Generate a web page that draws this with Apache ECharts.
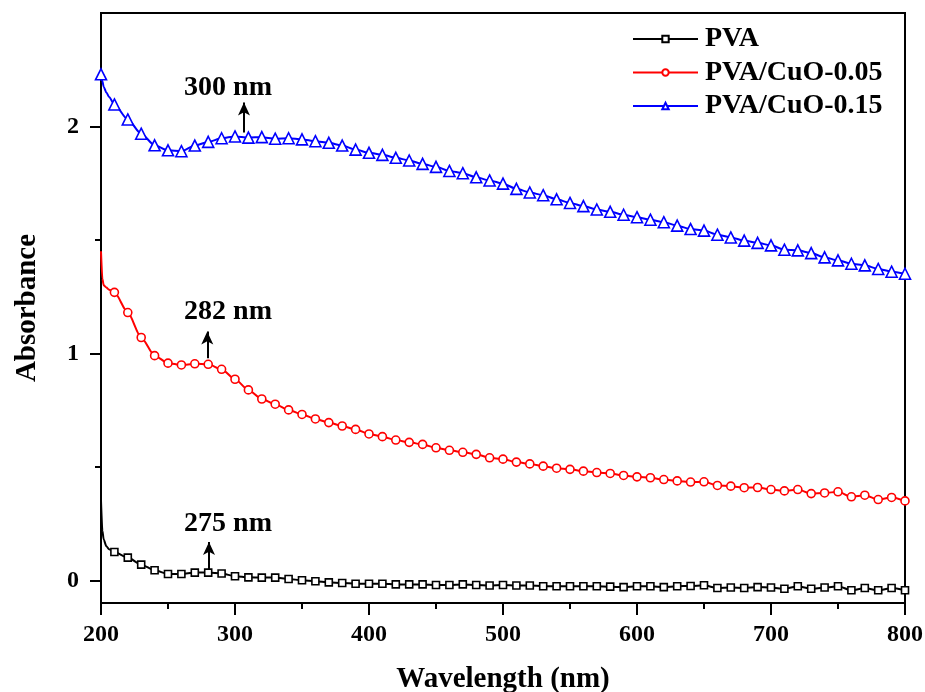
<!DOCTYPE html>
<html>
<head>
<meta charset="utf-8">
<script src="https://cdn.jsdelivr.net/npm/echarts@6/dist/echarts.min.js"></script>
<style>
html,body{margin:0;padding:0;background:#fff;}
#chart{width:925px;height:692px;}
</style>
</head>
<body>
<div id="chart"></div>
<script>
// ---- data ----
const wavelength = [200,210,220,230,240,250,260,270,280,290,300,310,320,330,340,350,360,370,380,390,400,410,420,430,440,450,460,470,480,490,500,510,520,530,540,550,560,570,580,590,600,610,620,630,640,650,660,670,680,690,700,710,720,730,740,750,760,770,780,790,800];
const pva = [0.35,0.125,0.100,0.069,0.044,0.028,0.028,0.034,0.034,0.030,0.018,0.013,0.012,0.012,0.006,0.000,-0.004,-0.009,-0.012,-0.015,-0.015,-0.015,-0.018,-0.018,-0.018,-0.021,-0.021,-0.018,-0.021,-0.023,-0.021,-0.023,-0.023,-0.026,-0.026,-0.026,-0.026,-0.026,-0.028,-0.030,-0.026,-0.026,-0.030,-0.026,-0.025,-0.022,-0.034,-0.032,-0.034,-0.030,-0.032,-0.037,-0.026,-0.037,-0.032,-0.026,-0.044,-0.034,-0.044,-0.034,-0.044];
const cuo005 = [1.45,1.269,1.180,1.070,0.990,0.957,0.949,0.954,0.952,0.930,0.886,0.839,0.799,0.776,0.751,0.731,0.711,0.695,0.680,0.665,0.645,0.633,0.618,0.608,0.599,0.584,0.573,0.564,0.555,0.540,0.534,0.521,0.513,0.503,0.494,0.489,0.481,0.475,0.471,0.462,0.456,0.452,0.444,0.438,0.433,0.434,0.418,0.415,0.408,0.409,0.400,0.394,0.400,0.382,0.385,0.390,0.368,0.375,0.356,0.365,0.350];
const cuo015 = [2.23,2.097,2.031,1.968,1.917,1.895,1.891,1.916,1.932,1.948,1.956,1.951,1.953,1.946,1.948,1.943,1.935,1.928,1.916,1.898,1.884,1.875,1.862,1.850,1.835,1.822,1.804,1.794,1.776,1.762,1.748,1.725,1.709,1.697,1.679,1.663,1.649,1.634,1.624,1.611,1.600,1.589,1.578,1.563,1.548,1.541,1.523,1.511,1.497,1.487,1.476,1.457,1.454,1.442,1.423,1.410,1.395,1.388,1.372,1.360,1.351];
// extra unmarked readings near the steep edge at 200 nm
const edgeWavelength = [201, 202, 204, 206];
const pvaEdge = [0.22, 0.18, 0.15, 0.137];
const cuo005Edge = [1.33, 1.30, 1.29, 1.28];
const cuo015Edge = [2.20, 2.175, 2.15, 2.13];

const seriesNames = ['PVA', 'PVA/CuO-0.05', 'PVA/CuO-0.15'];
// annotations: label, arrow x, arrow from y, arrow to y, text x, text y
const annLabels = ['275 nm', '282 nm', '300 nm'];
const annArrowX = [280.6, 279.3, 306.7];
const annArrowY0 = [0.047, 0.979, 1.973];
const annArrowY1 = [0.169, 1.096, 2.106];
const annTextX = [294.8, 294.8, 294.8];
const annTextY = [0.25, 1.185, 2.172];

const xTicks = [200, 800, 100];
const yMajor = [0, 1, 2];
const yMinor = [0.5, 1.5];

// ---- build ----
const FONT = '"Liberation Serif","Times New Roman",serif';
const colors = ['#000000', '#ff0000', '#0000ff'];
const symbols = ['rect', 'circle', 'triangle'];
const symSizes = [7, 8, 11];
const markFirst = [false, false, true];
const mainVals = [pva, cuo005, cuo015];
const edgeVals = [pvaEdge, cuo005Edge, cuo015Edge];

function buildData(i) {
  const pts = [];
  for (let k = 0; k < wavelength.length; k++) {
    const p = { value: [wavelength[k], mainVals[i][k]] };
    if (k === 0 && !markFirst[i]) p.symbol = 'none';
    pts.push(p);
  }
  for (let k = 0; k < edgeWavelength.length; k++) pts.push({ value: [edgeWavelength[k], edgeVals[i][k]], symbol: 'none' });
  pts.sort((a, b) => a.value[0] - b.value[0]);
  return pts;
}

const series = seriesNames.map((name, i) => ({
  name: name,
  type: 'line',
  data: buildData(i),
  smooth: 0.25,
  smoothMonotone: 'x',
  symbol: symbols[i],
  symbolSize: symSizes[i],
  showAllSymbol: true,
  clip: true,
  color: colors[i],
  lineStyle: { color: colors[i], width: 2 },
  itemStyle: { color: '#ffffff', borderColor: colors[i], borderWidth: 1.6 },
  emphasis: { disabled: true },
  markLine: {
    silent: true,
    symbol: ['none', 'arrow'],
    symbolSize: [9, 13],
    label: { show: false },
    lineStyle: { color: '#000', width: 2, type: 'solid' },
    data: [[{ coord: [annArrowX[i], annArrowY0[i]] }, { coord: [annArrowX[i], annArrowY1[i]] }]]
  },
  markPoint: {
    silent: true,
    symbol: 'circle',
    symbolSize: 0,
    label: {
      show: true, position: 'inside', formatter: annLabels[i],
      fontFamily: FONT, fontWeight: 'bold', fontSize: 28, color: '#000'
    },
    data: [{ coord: [annTextX[i], annTextY[i]] }]
  }
}));

const chart = echarts.init(document.getElementById('chart'), null, { renderer: 'canvas' });
chart.setOption({
  animation: false,
  backgroundColor: '#ffffff',
  grid: { left: 101, right: 20, top: 13, bottom: 89, show: true, borderColor: '#000', borderWidth: 2, containLabel: false, outerBoundsMode: 'none' },
  legend: {
    data: seriesNames,
    orient: 'vertical',
    left: 627,
    top: 20,
    itemWidth: 65,
    itemHeight: 8,
    itemGap: 5.5,
    textStyle: { fontFamily: FONT, fontWeight: 'bold', fontSize: 28, color: '#000', padding: [0,0,0,2] }
  },
  xAxis: {
    type: 'value',
    min: xTicks[0], max: xTicks[1], interval: xTicks[2],
    name: 'Wavelength (nm)',
    nameLocation: 'middle',
    nameGap: 62,
    nameTextStyle: { fontFamily: FONT, fontWeight: 'bold', fontSize: 29, color: '#000' },
    axisLine: { show: true, onZero: false, lineStyle: { color: '#000', width: 2 } },
    axisTick: { show: true, inside: false, length: 12, lineStyle: { color: '#000', width: 2 } },
    minorTick: { show: true, splitNumber: 2, length: 6, lineStyle: { color: '#000', width: 2 } },
    axisLabel: { fontFamily: FONT, fontWeight: 'bold', fontSize: 24, color: '#000', margin: 20 },
    splitLine: { show: false }
  },
  yAxis: [{
    type: 'value',
    min: -0.1, max: 2.5,
    position: 'left',
    name: 'Absorbance',
    nameLocation: 'middle',
    nameGap: 59,
    nameTextStyle: { fontFamily: FONT, fontWeight: 'bold', fontSize: 29, color: '#000' },
    axisLine: { show: true, onZero: false, lineStyle: { color: '#000', width: 2 } },
    axisTick: { show: true, inside: false, length: 11, customValues: yMajor, lineStyle: { color: '#000', width: 2 } },
    axisLabel: { customValues: yMajor, fontFamily: FONT, fontWeight: 'bold', fontSize: 24, color: '#000', margin: 22 },
    splitLine: { show: false }
  }, {
    type: 'value',
    min: -0.1, max: 2.5,
    position: 'left',
    offset: 0,
    axisLine: { show: false },
    axisTick: { show: true, inside: false, length: 6, customValues: yMinor, lineStyle: { color: '#000', width: 2 } },
    axisLabel: { show: false },
    splitLine: { show: false }
  }],
  series: series
});
</script>
</body>
</html>
